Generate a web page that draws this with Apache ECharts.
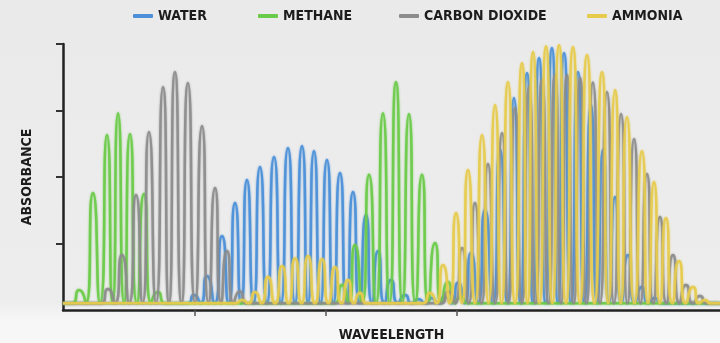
<!DOCTYPE html>
<html>
<head>
<meta charset="utf-8">
<script src="https://cdn.jsdelivr.net/npm/echarts@6/dist/echarts.min.js"></script>
<style>
html,body{margin:0;padding:0;background:#ececec;}
#chart{width:720px;height:343px;}
</style>
</head>
<body>
<div id="chart"></div>
<script>
// Series names (legend order)
const seriesNames = ['WATER', 'METHANE', 'CARBON DIOXIDE', 'AMMONIA'];
// Tick positions on the wavelength axis
const xTicks = [10, 20, 30];
const yTicks = [25, 50, 75, 100];

// [wavelength, absorbance] readings, peaks and the troughs between them
const water = [[0,2.5],[9.5,2.5],[9.97,5.6],[10.47,2.5],[10.96,12.8],[11.53,2.5],[12.10,27.8],[12.6,2.5],[13.09,40.2],[13.55,2.5],[14.0,48.9],[14.5,2.5],[14.99,53.8],[15.52,2.5],[16.06,57.5],[16.59,2.5],[17.12,60.9],[17.65,2.5],[18.19,61.7],[18.65,2.5],[19.10,59.8],[19.6,2.5],[20.09,56.4],[20.58,2.5],[21.08,51.5],[21.58,2.5],[22.07,44.4],[22.56,2.5],[23.06,35.7],[23.52,2.5],[23.97,22.2],[24.47,2.5],[24.96,11.3],[25.5,2.5],[26.03,5.6],[26.55,2.5],[27.05,4],[27.55,2.5],[28.05,4.5],[28.55,2.5],[29.05,5],[29.55,2.5],[30.06,10.2],[30.55,2.5],[31.05,21.4],[31.58,2.5],[32.12,37.6],[32.7,2.5],[33.26,60.2],[33.8,2.5],[34.32,79.7],[34.8,2.5],[35.31,89.1],[35.77,2.5],[36.23,94.7],[36.72,2.5],[37.21,98.5],[37.67,2.5],[38.13,96.6],[38.66,2.5],[39.19,89.5],[39.68,2.5],[40.18,77.1],[40.64,2.5],[41.10,60.2],[41.55,2.5],[42.01,42.5],[42.5,2.5],[43.00,20.7],[43.53,2.5],[44.06,8.6],[44.55,2.5],[45.05,4.5],[45.55,2.5],[50,2.5]];

const methane = [[0,2.5],[0.7,2.5],[1.22,7.5],[1.75,2.5],[2.28,44],[2.82,2.5],[3.35,65.8],[3.77,2.5],[4.19,74],[4.65,2.5],[5.10,66.2],[5.63,2.5],[6.16,43.6],[6.7,2.5],[7.23,6.8],[7.75,2.5],[20.7,2.5],[21.23,9.4],[21.72,2.5],[22.22,24.4],[22.75,2.5],[23.29,50.8],[23.82,2.5],[24.35,74],[24.85,2.5],[25.34,85.7],[25.83,2.5],[26.33,73.7],[26.82,2.5],[27.32,50.8],[27.8,2.5],[28.31,25.2],[28.8,2.5],[29.30,10.5],[29.8,2.5],[30.29,5],[30.8,2.5],[50,2.5]];

const carbonDioxide = [[0,2.5],[2.9,2.5],[3.42,7.9],[3.95,2.5],[4.49,20.7],[5.02,2.5],[5.56,43.2],[6.05,2.5],[6.54,66.9],[7.08,2.5],[7.61,83.8],[8.06,2.5],[8.52,89.5],[9.02,2.5],[9.51,85.3],[10.05,2.5],[10.58,69.2],[11.08,2.5],[11.57,45.9],[12.03,2.5],[12.48,22.2],[12.98,2.5],[13.47,7],[14.0,2.5],[28.8,2.5],[29.30,7],[29.83,2.5],[30.37,23.3],[30.86,2.5],[31.35,40.2],[31.85,2.5],[32.34,54.9],[32.88,2.5],[33.41,66.5],[33.9,2.5],[34.40,75.9],[34.93,2.5],[35.46,83.8],[35.96,2.5],[36.45,86.5],[36.95,2.5],[37.44,88.3],[37.9,2.5],[38.36,88.3],[38.86,2.5],[39.35,87.2],[39.84,2.5],[40.33,85.5],[40.87,2.5],[41.40,82],[41.93,2.5],[42.47,73.7],[42.96,2.5],[43.46,64.3],[43.95,2.5],[44.44,51.1],[44.93,2.5],[45.43,35],[45.93,2.5],[46.42,20.7],[46.92,2.5],[47.41,9.4],[47.95,2.5],[48.48,5.3],[49.0,2.5],[50,2.5]];

const ammonia = [[0,2.5],[13.1,2.5],[13.62,3.8],[14.1,2.5],[14.61,6.8],[15.1,2.5],[15.60,12.4],[16.13,2.5],[16.67,16.5],[17.16,2.5],[17.66,19.5],[18.15,2.5],[18.65,20.3],[19.18,2.5],[19.71,19.2],[20.2,2.5],[20.70,16.2],[21.2,2.5],[21.69,11.3],[22.15,2.5],[22.60,6.4],[23.1,2.5],[27.4,2.5],[27.93,6.4],[28.42,2.5],[28.92,16.9],[29.42,2.5],[29.91,36.5],[30.36,2.5],[30.82,52.6],[31.35,2.5],[31.89,65.8],[32.38,2.5],[32.88,77.1],[33.37,2.5],[33.87,85.7],[34.4,2.5],[34.93,92.9],[35.35,2.5],[35.77,97],[36.26,2.5],[36.76,99.2],[37.25,2.5],[37.75,99.6],[38.28,2.5],[38.81,98.9],[39.34,2.5],[39.88,95.9],[40.45,2.5],[41.02,89.5],[41.5,2.5],[42.01,82.7],[42.46,2.5],[42.92,72.6],[43.49,2.5],[44.06,59.8],[44.52,2.5],[44.98,48.1],[45.43,2.5],[45.89,34.6],[46.38,2.5],[46.88,18.4],[47.4,2.5],[47.95,8.6],[48.4,2.5],[48.86,3.8],[49.3,2.5],[50,2.5]];

const colors = ['#4a8fd8', '#6acb48', '#8c8c8c', '#e6cb4c'];
const seriesData = [water, methane, carbonDioxide, ammonia];
const legendLefts = [133, 258, 399, 587];

const FONT = "'Liberation Sans Narrow', 'DejaVu Sans Condensed', 'Liberation Sans', sans-serif";

const chart = echarts.init(document.getElementById('chart'), null, {renderer: 'canvas'});

const option = {
  animation: false,
  backgroundColor: {
    type: 'linear', x: 0, y: 0, x2: 0, y2: 1,
    colorStops: [
      {offset: 0, color: '#eaeaea'},
      {offset: 0.88, color: '#ededed'},
      {offset: 0.93, color: '#f6f6f6'},
      {offset: 1, color: '#f8f8f8'}
    ]
  },
  color: colors,
  legend: seriesNames.map((n, i) => ({
    data: [n],
    left: legendLefts[i],
    top: 9,
    padding: 0,
    icon: 'roundRect',
    itemWidth: 20,
    itemHeight: 4,
    selectedMode: false,
    textStyle: {fontFamily: FONT, fontWeight: 'bold', fontSize: 14, color: '#1c1c1c'}
  })),
  grid: {left: 63, right: 0, top: 44, bottom: 33, containLabel: false, outerBoundsMode: 'none'},
  xAxis: {
    type: 'value', min: 0, max: 50,
    name: 'WAVEELENGTH', nameLocation: 'middle', nameGap: 18,
    nameTextStyle: {fontFamily: FONT, fontWeight: 'bold', fontSize: 14, color: '#1c1c1c'},
    axisLine: {show: true, lineStyle: {color: '#222', width: 2.5}},
    axisTick: {show: true, customValues: xTicks, length: 6, lineStyle: {color: '#555', width: 1.5}},
    axisLabel: {show: false},
    splitLine: {show: false}
  },
  yAxis: {
    type: 'value', min: 0, max: 100, interval: 25,
    name: 'ABSORBANCE', nameLocation: 'middle', nameRotate: 90, nameGap: 29,
    nameTextStyle: {fontFamily: FONT, fontWeight: 'bold', fontSize: 14, color: '#1c1c1c'},
    axisLine: {show: true, lineStyle: {color: '#222', width: 2.5}},
    axisTick: {show: true, customValues: yTicks, length: 7, lineStyle: {color: '#333', width: 2}},
    axisLabel: {show: false},
    splitLine: {show: false}
  },
  series: seriesNames.map((n, i) => ({
    name: n,
    type: 'line',
    data: seriesData[i],
    showSymbol: false,
    smooth: 0.8,
    lineStyle: {width: 2.5, color: colors[i], opacity: 0.88, shadowBlur: 2, shadowColor: colors[i]},
    itemStyle: {color: colors[i]}
  }))
};
chart.setOption(option);
</script>
</body>
</html>
